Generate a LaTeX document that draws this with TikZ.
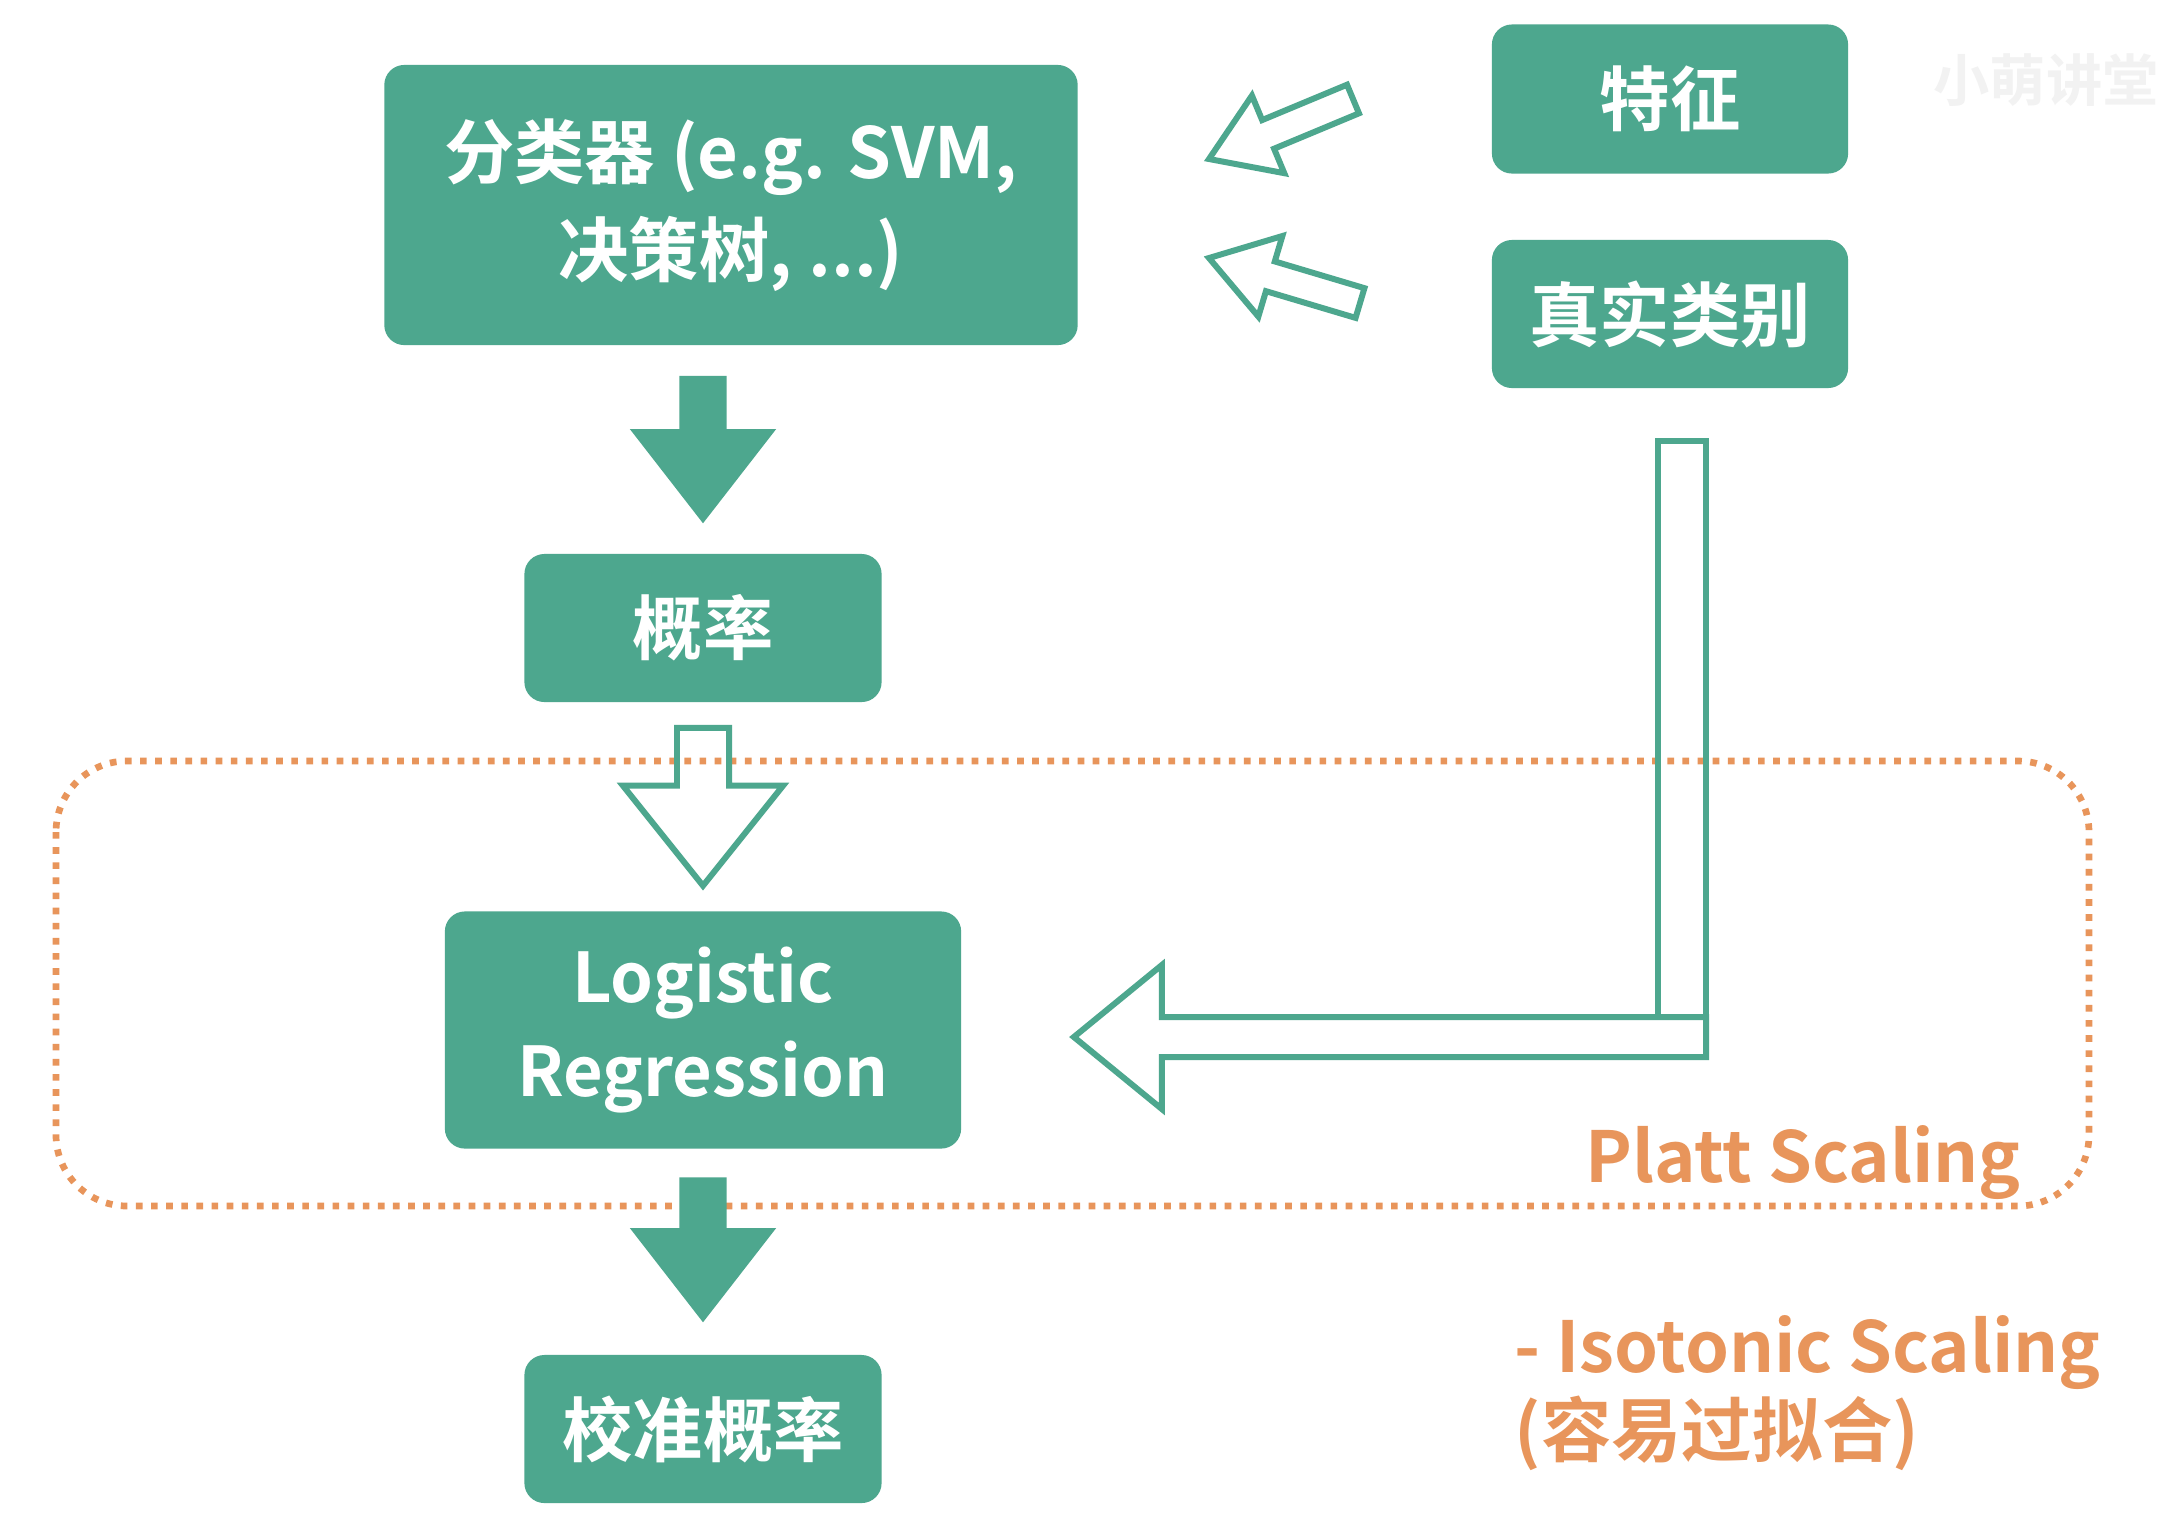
\documentclass[tikz,border=0pt]{standalone}
\usepackage{fontspec}
\usetikzlibrary{calc,positioning}
\newfontfamily\cjk{Noto Sans CJK SC Bold}
\definecolor{boxGreen}{HTML}{4DA78E}
\definecolor{plattOrange}{HTML}{E8955B}
\newcommand{\blockArrow}[6][]{%
  \coordinate (ba-base) at ($(#3)!#6!(#2)$);
  \draw[#1] ($(#2)!#4!90:(#3)$) -- ($(ba-base)!#4!90:(#3)$) -- ($(ba-base)!#5!90:(#3)$) -- (#3)
    -- ($(ba-base)!#5!-90:(#3)$) -- ($(ba-base)!#4!-90:(#3)$) -- ($(#2)!#4!-90:(#3)$) -- cycle;}
\tikzset{
  kutu/.style={fill=boxGreen, text=white, rounded corners=0.2cm, align=center, inner sep=0pt,
    font=\cjk\fontsize{20}{28}\selectfont},
  solidOk/.style={fill=boxGreen, draw=none},
  hollowOk/.style={draw=boxGreen, line width=1.7pt, line join=miter},
  orangeText/.style={text=plattOrange, font=\cjk\fontsize{20}{24}\selectfont, inner sep=0pt}
}

\begin{document}
\begin{tikzpicture}[x=0.01cm,y=-0.01cm]
\useasboundingbox[fill=white] (0,0) rectangle (2172,1532);
\draw[plattOrange, line width=1.9pt, dash pattern=on 1.9pt off 2.4pt, rounded corners=0.71cm]
  (56,761) rectangle (2089,1206);

\node[kutu, minimum width=6.93cm, minimum height=2.8cm] (clf) at (731,205) {分类器 (e.g. SVM,\\决策树, ...)};
\node[kutu, minimum width=3.56cm, minimum height=1.49cm] (feat) at (1670,99) {特征};
\node[kutu, minimum width=3.56cm, minimum height=1.48cm] (label) at (1670,314) {真实类别};
\node[kutu, minimum width=3.57cm, minimum height=1.48cm] (prob) at (703,628) {概率};
\node[kutu, minimum width=5.16cm, minimum height=2.37cm, font=\cjk\fontsize{19.5}{26.5}\selectfont] (lr) at (703,1030) {Logistic\\Regression};
\node[kutu, minimum width=3.57cm, minimum height=1.48cm] (cal) at (703,1429) {校准概率};
\node[text=black!5, font=\cjk\fontsize{16}{16}\selectfont] (filigran) at (2046,80) {小萌讲堂};

\coordinate (featTail) at (1353,99);
\coordinate (featTip) at (1209,159);
\coordinate (labelTail) at (1360,303);
\coordinate (labelTip) at (1209,258);
\blockArrow[hollowOk]{featTail}{featTip}{0.155cm}{0.42cm}{0.64cm}
\blockArrow[hollowOk]{labelTail}{labelTip}{0.155cm}{0.42cm}{0.64cm}

\coordinate (clfOut) at ($(prob.north |- clf.south)+(0,30)$);
\coordinate (probIn) at ($(prob.north)+(0,-30)$);
\blockArrow[solidOk]{clfOut}{probIn}{0.235cm}{0.73cm}{0.94cm}
\coordinate (probOut) at ($(prob.south)+(0,25)$);
\coordinate (lrIn) at ($(lr.north)+(0,-25)$);
\blockArrow[hollowOk]{probOut}{lrIn}{0.26cm}{0.8cm}{1.0cm}
\coordinate (lrOut) at ($(lr.south)+(0,28)$);
\coordinate (calIn) at ($(cal.north)+(0,-32)$);
\blockArrow[solidOk]{lrOut}{calIn}{0.235cm}{0.73cm}{0.94cm}

\draw[hollowOk] ($(label.south)+(-12,52)$) rectangle (1706,1017);
\coordinate (bendTail) at (1706,1037);
\coordinate (lrSide) at ($(lr.east)+(112,7)$);
\blockArrow[hollowOk]{bendTail}{lrSide}{0.2cm}{0.72cm}{0.88cm}

\node[orangeText] (platt) at (1803,1163) {Platt Scaling};
\node[orangeText, anchor=west, align=left] (isotonic) at (1514,1393) {- Isotonic Scaling\\(容易过拟合)};
\end{tikzpicture}
\end{document}
